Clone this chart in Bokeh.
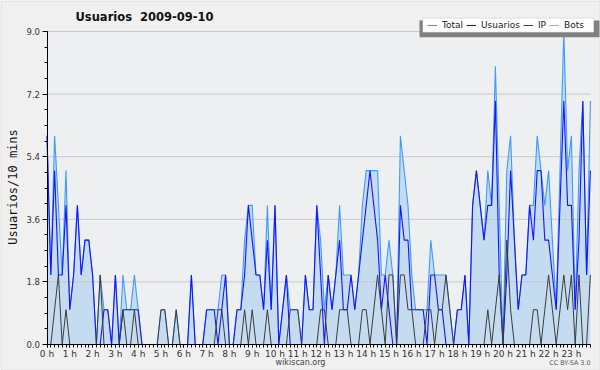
import math
from bokeh.plotting import figure
from bokeh.models import (FixedTicker, Range1d, Label, Legend, LegendItem,
                          BoxAnnotation, PrintfTickFormatter, ColumnDataSource)
from bokeh.embed import file_html
from bokeh.resources import INLINE

# ---------------- data (one value per 10-minute slot) ----------------
hour_labels = [f"{h} h" for h in range(24)]
slots = list(range(144))

usuarios = [6, 2, 5, 2, 2, 4, 1, 2, 4, 2, 3, 3, 2, 0, 0, 1, 1, 0, 2, 0, 1, 1, 1, 1,
            1, 0, 0, 0, 0, 0, 0, 0, 0, 0, 0, 0, 0, 0, 2, 0, 0, 0, 1, 1, 1, 0, 1, 2,
            0, 0, 1, 1, 2, 4, 3, 2, 2, 1, 3, 1, 4, 0, 1, 2, 0, 0, 0, 0, 2, 1, 1, 4,
            2, 0, 2, 1, 2, 3, 1, 1, 2, 1, 2, 3, 4, 5, 4, 3, 1, 2, 1, 0, 0, 4, 3, 3,
            1, 1, 1, 1, 0, 2, 2, 1, 1, 0, 0, 0, 1, 1, 2, 0, 4, 5, 4, 3, 4, 4, 7, 2,
            0, 2, 5, 3, 1, 2, 2, 4, 3, 5, 5, 3, 3, 2, 1, 4, 7, 4, 4, 1, 3, 7, 2, 5]

ip = [0, 0, 1, 2, 0, 1, 0, 0, 0, 0, 0, 0, 0, 0, 2, 0, 0, 0, 0, 0, 1, 0, 0, 1,
      0, 0, 0, 0, 0, 0, 1, 1, 0, 0, 1, 0, 0, 0, 0, 0, 0, 0, 0, 0, 0, 1, 1, 0,
      0, 0, 0, 0, 1, 0, 1, 0, 0, 0, 1, 0, 0, 0, 0, 0, 1, 1, 1, 0, 0, 0, 0, 0,
      1, 1, 0, 0, 0, 1, 1, 1, 0, 0, 0, 1, 1, 0, 1, 2, 1, 0, 2, 2, 0, 2, 2, 1,
      1, 0, 0, 0, 1, 1, 0, 1, 1, 2, 1, 0, 0, 0, 0, 0, 0, 0, 0, 0, 1, 0, 1, 2,
      0, 3, 1, 0, 0, 0, 0, 0, 1, 1, 0, 1, 2, 1, 0, 1, 2, 1, 2, 0, 2, 0, 0, 2]

total = [6, 2, 6, 4, 2, 5, 1, 2, 4, 2, 3, 3, 2, 0, 2, 1, 1, 0, 2, 0, 2, 1, 1, 2,
         1, 0, 0, 0, 0, 0, 1, 1, 0, 0, 1, 0, 0, 0, 2, 0, 0, 0, 1, 1, 1, 1, 2, 2,
         0, 0, 1, 1, 3, 4, 4, 2, 2, 1, 4, 1, 4, 0, 1, 2, 1, 1, 1, 0, 2, 1, 1, 4,
         3, 1, 2, 1, 2, 4, 2, 2, 2, 1, 2, 4, 5, 5, 5, 5, 2, 2, 3, 2, 0, 6, 5, 4,
         2, 1, 1, 1, 1, 3, 2, 2, 2, 2, 1, 0, 1, 1, 2, 0, 4, 5, 4, 3, 5, 4, 8, 4,
         0, 5, 6, 3, 1, 2, 2, 4, 4, 6, 5, 4, 5, 3, 1, 5, 9, 5, 6, 1, 5, 7, 2, 7]

bots = [0, 0, 0, 0, 0, 0, 0, 0, 0, 0, 0, 0, 0, 0, 0, 0, 0, 0, 0, 0, 0, 0, 0, 0,
        0, 0, 0, 0, 0, 0, 0, 0, 0, 0, 0, 0, 0, 0, 0, 0, 0, 0, 0, 0, 0, 0, 0, 0,
        0, 0, 0, 0, 0, 0, 0, 0, 0, 0, 0, 0, 0, 0, 0, 0, 0, 0, 0, 0, 0, 0, 0, 0,
        0, 0, 0, 0, 0, 0, 0, 0, 0, 0, 0, 0, 0, 0, 0, 0, 0, 0, 0, 0, 0, 0, 0, 0,
        0, 0, 0, 0, 0, 0, 0, 0, 0, 0, 0, 0, 0, 0, 0, 0, 0, 0, 0, 0, 0, 0, 0, 0,
        0, 0, 0, 0, 0, 0, 0, 0, 0, 0, 0, 0, 0, 0, 0, 0, 0, 0, 0, 0, 0, 0, 0, 0]

y_ticks = [0.0, 1.8, 3.6, 5.4, 7.2, 9.0]

# ---------------- layout (pixels) ----------------
W, H = 600, 370
PX_X0, PX_X1 = 46.5, 589.9      # pixel x of first / last slot
PX_Y0, PX_YT = 344.0, 31.0      # pixel y of value 0 / top tick

kx = (PX_X1 - PX_X0) / (slots[-1] - slots[0])
x_start = slots[0] - PX_X0 / kx
x_end = x_start + W / kx
ky = (PX_Y0 - PX_YT) / (y_ticks[-1] - y_ticks[0])
y_end = y_ticks[-1] + PX_YT / ky
y_start = y_end - H / ky


def sy(px):               # page pixel y (from top) -> screen units (from bottom)
    return H - px


BG = "#f0f0f0"
PLOT_BG = "#eeeff1"
C_TOTAL = "#3d9bff"
C_USERS = "#1414ff"
C_IP = "#3c3c3c"
C_BOTS = "#ffa020"
C_FILL = "#c5dcf0"
C_GRID = "#c8c8c8"
FONT = "DejaVu Sans"

p = figure(width=W, height=H, output_backend="svg", toolbar_location=None,
           x_range=Range1d(x_start, x_end), y_range=Range1d(y_start, y_end),
           min_border=0)
p.title = None
p.border_fill_color = BG
p.background_fill_color = BG
p.outline_line_color = None
p.xgrid.visible = False
p.ygrid.visible = False

# plot-area background
p.add_layout(BoxAnnotation(left=slots[0], right=slots[-1], bottom=y_ticks[0], top=y_ticks[-1],
                           fill_color=PLOT_BG, fill_alpha=1.0, line_color=None,
                           level="underlay"))

src = ColumnDataSource(dict(slot=slots, total=total, usuarios=usuarios, ip=ip, bots=bots))

p.varea(x="slot", y1=0, y2="total", source=src, fill_color=C_FILL, fill_alpha=1.0)
# horizontal grid lines at the major y ticks (over the fill, under the lines)
p.segment(x0=slots[0], x1=slots[-1], y0=y_ticks[1:], y1=y_ticks[1:],
          line_color=C_GRID, line_width=1)
r_total = p.line("slot", "total", source=src, line_color=C_TOTAL, line_width=1.1)
r_users = p.line("slot", "usuarios", source=src, line_color=C_USERS, line_width=1.1)
r_ip = p.line("slot", "ip", source=src, line_color=C_IP, line_width=1.0)
r_bots = p.line("slot", "bots", source=src, line_color=C_BOTS, line_width=1.0)

# ---------------- axes (fixed at the data origin) ----------------
p.xaxis.fixed_location = 0
p.xaxis.bounds = (slots[0], slots[-1])
p.xaxis.ticker = FixedTicker(ticks=slots[::6], minor_ticks=slots)
p.xaxis.major_label_overrides = {s: lab for s, lab in zip(slots[::6], hour_labels)}
p.xaxis.major_tick_out = 3
p.xaxis.major_tick_in = 0
p.xaxis.minor_tick_out = 3
p.xaxis.minor_tick_in = 0
p.xaxis.major_label_standoff = 1
p.xaxis.major_label_text_font_size = "9px"

p.yaxis.fixed_location = 0
p.yaxis.bounds = (y_ticks[0], y_ticks[-1])
p.yaxis.ticker = FixedTicker(ticks=y_ticks, minor_ticks=[k * 0.45 for k in range(21)])
p.yaxis.formatter = PrintfTickFormatter(format="%.1f")
p.yaxis.major_tick_out = 5
p.yaxis.major_tick_in = 0
p.yaxis.minor_tick_out = 3
p.yaxis.minor_tick_in = 0
p.yaxis.major_label_standoff = 2
p.yaxis.major_label_text_font_size = "8.5px"

for ax in (p.xaxis, p.yaxis):
    ax.axis_line_color = "black"
    ax.major_tick_line_color = "black"
    ax.minor_tick_line_color = "black"
    ax.major_label_text_font = FONT
    ax.major_label_text_color = "#333333"

# ---------------- texts ----------------
p.add_layout(Label(x=75, y=sy(16.5), x_units="screen", y_units="screen",
                   text="Usuarios\u00a0\u00a02009-09-10", text_font=FONT,
                   text_font_style="bold", text_font_size="11.5px",
                   text_color="#111111", text_baseline="middle", text_align="left"))
p.add_layout(Label(x=12, y=sy(186.5), x_units="screen", y_units="screen",
                   text="Usuarios/10 mins", angle=math.pi / 2,
                   text_font="DejaVu Sans Mono", text_font_size="12px",
                   text_color="#111111", text_baseline="middle", text_align="center"))
p.add_layout(Label(x=300, y=sy(362), x_units="screen", y_units="screen",
                   text="wikiscan.org", text_font=FONT, text_font_size="8px",
                   text_color="#444444", text_baseline="middle", text_align="center"))
p.add_layout(Label(x=590, y=sy(362), x_units="screen", y_units="screen",
                   text="CC BY-SA 3.0", text_font=FONT, text_font_size="6.4px",
                   text_color="#555555", text_baseline="middle", text_align="right"))

# ---------------- legend with drop shadow ----------------
p.add_layout(BoxAnnotation(left=419, right=599, top=sy(20), bottom=sy(36.7),
                           left_units="screen", right_units="screen",
                           top_units="screen", bottom_units="screen",
                           fill_color="#808080", fill_alpha=1.0, line_color=None))
p.add_layout(BoxAnnotation(left=422.3, right=593.3, top=sy(17.7), bottom=sy(31.7),
                           left_units="screen", right_units="screen",
                           top_units="screen", bottom_units="screen",
                           fill_color="white", fill_alpha=1.0,
                           line_color="#b0b0b0", line_width=1))
legend = Legend(items=[LegendItem(label="Total", renderers=[r_total]),
                       LegendItem(label="Usuarios", renderers=[r_users]),
                       LegendItem(label="IP", renderers=[r_ip]),
                       LegendItem(label="Bots", renderers=[r_bots])],
                location=(427, sy(31.7)), orientation="horizontal",
                background_fill_alpha=0, border_line_alpha=0,
                padding=0, margin=0, spacing=3, glyph_width=10, glyph_height=12,
                label_standoff=5, label_width=0, label_height=14,
                label_text_font=FONT, label_text_font_size="9px",
                label_text_color="#222222")
p.add_layout(legend)

# thin frame round the whole picture
p.add_layout(BoxAnnotation(left=0.5, right=W - 0.5, top=H - 0.5, bottom=0.5,
                           left_units="screen", right_units="screen",
                           top_units="screen", bottom_units="screen",
                           fill_alpha=0, line_color="#b4b4b4", line_width=1))

open("out.html", "w").write(file_html(p, INLINE))
